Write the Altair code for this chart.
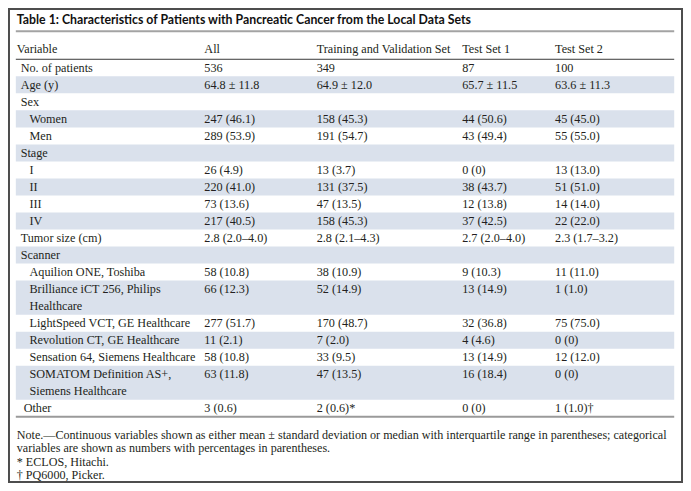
import altair as alt
import pandas as pd

# ---------------- data ----------------
title = "Table 1: Characteristics of Patients with Pancreatic Cancer from the Local Data Sets"
headers = ["Variable", "All", "Training and Validation Set", "Test Set 1", "Test Set 2"]

labels = [
    "No. of patients", "Age (y)", "Sex", "Women", "Men", "Stage", "I", "II", "III", "IV",
    "Tumor size (cm)", "Scanner", "Aquilion ONE, Toshiba",
    "Brilliance iCT 256, Philips\nHealthcare", "LightSpeed VCT, GE Healthcare",
    "Revolution CT, GE Healthcare", "Sensation 64, Siemens Healthcare",
    "SOMATOM Definition AS+,\nSiemens Healthcare", "Other",
]
levels = [0, 0, 0, 1, 1, 0, 1, 1, 1, 1, 0, 0, 1, 1, 1, 1, 1, 1, 2]

col_all = ["536", "64.8 ± 11.8", "", "247 (46.1)", "289 (53.9)", "", "26 (4.9)", "220 (41.0)",
           "73 (13.6)", "217 (40.5)", "2.8 (2.0–4.0)", "", "58 (10.8)", "66 (12.3)",
           "277 (51.7)", "11 (2.1)", "58 (10.8)", "63 (11.8)", "3 (0.6)"]
col_train = ["349", "64.9 ± 12.0", "", "158 (45.3)", "191 (54.7)", "", "13 (3.7)", "131 (37.5)",
             "47 (13.5)", "158 (45.3)", "2.8 (2.1–4.3)", "", "38 (10.9)", "52 (14.9)",
             "170 (48.7)", "7 (2.0)", "33 (9.5)", "47 (13.5)", "2 (0.6)*"]
col_test1 = ["87", "65.7 ± 11.5", "", "44 (50.6)", "43 (49.4)", "", "0 (0)", "38 (43.7)",
             "12 (13.8)", "37 (42.5)", "2.7 (2.0–4.0)", "", "9 (10.3)", "13 (14.9)",
             "32 (36.8)", "4 (4.6)", "13 (14.9)", "16 (18.4)", "0 (0)"]
col_test2 = ["100", "63.6 ± 11.3", "", "45 (45.0)", "55 (55.0)", "", "13 (13.0)", "51 (51.0)",
             "14 (14.0)", "22 (22.0)", "2.3 (1.7–3.2)", "", "11 (11.0)", "1 (1.0)",
             "75 (75.0)", "0 (0)", "12 (12.0)", "0 (0)", "1 (1.0)†"]

notes = [
    "Note.—Continuous variables shown as either mean ± standard deviation or median with interquartile range in parentheses; categorical",
    "variables are shown as numbers with percentages in parentheses.",
    "* ECLOS, Hitachi.",
    "† PQ6000, Picker.",
]

# ---------------- layout (reference pixel space) ----------------
W_REF, H_REF = 691, 491
W, H = 675, 475
col_x = [9, 201, 316, 465, 560]
indent_x = {0: 13, 1: 22, 2: 16}
left, right = 8, 682
title_y, title_rule_y = 12, 24
header_y, header_rule_y = 42.5, 53
unit = 17.6
note_x, note_y0, note_step = 9, 441, 14

SERIF = "Liberation Serif, Times New Roman, Times, DejaVu Serif, serif"
TXT = "#231f20"

xs = alt.Scale(domain=[0, W_REF], range=[0, W], nice=False, zero=False)
ys = alt.Scale(domain=[0, H_REF], range=[0, H], nice=False, zero=False)

# build rows
body_rows, band_rows = [], []
top = header_rule_y
columns = [col_all, col_train, col_test1, col_test2]
for i, lab in enumerate(labels):
    parts = lab.split("\n")
    n = len(parts)
    if i % 2 == 1:
        band_rows.append({"x": left, "x2": right, "y": top, "y2": top + n * unit})
    for k, p in enumerate(parts):
        body_rows.append({"x": indent_x[levels[i]], "y": top + unit * (k + 0.5), "text": p})
    for c, col in enumerate(columns):
        if col[i]:
            body_rows.append({"x": col_x[c + 1], "y": top + unit * 0.5, "text": col[i]})
    top += n * unit
table_bottom = top

df_body = pd.DataFrame(body_rows)
df_band = pd.DataFrame(band_rows)
df_head = pd.DataFrame({"x": col_x, "y": [header_y] * 5, "text": headers})
df_notes = pd.DataFrame({"x": [note_x] * len(notes),
                         "y": [note_y0 + note_step * i for i in range(len(notes))],
                         "text": notes})
df_title = pd.DataFrame({"x": [9], "y": [title_y], "text": [title]})
df_rules = pd.DataFrame({
    "x": [left] * 3, "x2": [right] * 3,
    "y": [title_rule_y, header_rule_y, table_bottom],
    "color": ["#a3a3a3", "#3a3a3a", "#9a9a9a"],
    "w": [2, 1, 2],
})
df_frame = pd.DataFrame({"x": [1], "x2": [690], "y": [1], "y2": [490]})

X = lambda f="x": alt.X(f + ":Q", scale=xs, axis=None)
Y = lambda f="y": alt.Y(f + ":Q", scale=ys, axis=None)

bands = alt.Chart(df_band).mark_rect(color="#dae1ec").encode(
    x=X(), x2="x2:Q", y=Y(), y2="y2:Q")

rules = alt.Chart(df_rules).mark_rule().encode(
    x=X(), x2="x2:Q", y=Y(),
    color=alt.Color("color:N", scale=None),
    strokeWidth=alt.StrokeWidth("w:Q", scale=None))

frame = alt.Chart(df_frame).mark_rect(filled=False, stroke="#4d4d4d", strokeWidth=2).encode(
    x=X(), x2="x2:Q", y=Y(), y2="y2:Q")

title_t = alt.Chart(df_title).mark_text(
    align="left", baseline="middle", font="Lato", fontWeight="bold", fontSize=12.3,
    color="#111111").encode(x=X(), y=Y(), text="text:N")

head_t = alt.Chart(df_head).mark_text(
    align="left", baseline="middle", font=SERIF, fontSize=12.2, color=TXT).encode(
    x=X(), y=Y(), text="text:N")

body_t = alt.Chart(df_body).mark_text(
    align="left", baseline="middle", font=SERIF, fontSize=12.2, color=TXT).encode(
    x=X(), y=Y(), text="text:N")

notes_t = alt.Chart(df_notes).mark_text(
    align="left", baseline="middle", font=SERIF, fontSize=12.1, color=TXT).encode(
    x=X(), y=Y(), text="text:N")

chart = alt.layer(bands, rules, frame, title_t, head_t, body_t, notes_t).properties(
    width=W, height=H, padding=0, autosize=alt.AutoSizeParams(type="none"),
    background="white",
).configure_view(stroke=None)

chart.save("out.html", embed_options={"renderer": "svg", "actions": False})
